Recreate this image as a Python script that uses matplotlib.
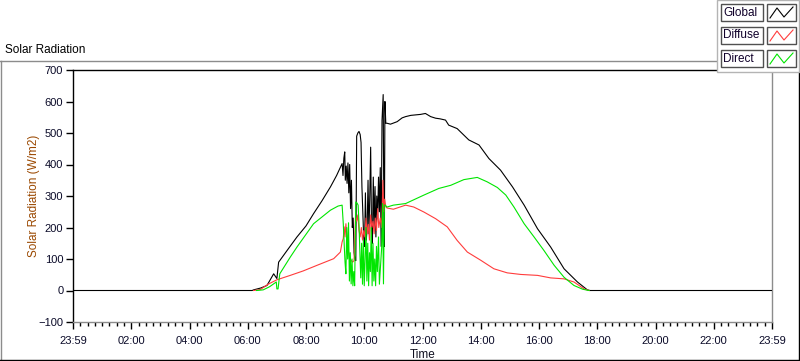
import matplotlib
matplotlib.use("Agg")
import matplotlib.pyplot as plt
from matplotlib.lines import Line2D
from matplotlib.patches import Rectangle
from matplotlib.ticker import MultipleLocator

plt.rcParams['font.family'] = ['Liberation Sans', 'DejaVu Sans']

# hours after midnight -> W/m2
global_h = [0, 6.15, 6.2, 6.45, 6.66, 6.89, 7.0, 7.06, 7.1, 7.35, 7.69, 8.0, 8.26, 8.55, 8.84, 9.05,
            9.24, 9.27, 9.30, 9.33, 9.35, 9.38, 9.41, 9.44, 9.47, 9.50, 9.53, 9.56, 9.59, 9.62, 9.65,
            9.68, 9.71, 9.74, 9.78, 9.82, 9.86, 9.89, 9.92, 9.95, 9.98, 10.01, 10.04, 10.07, 10.10,
            10.13, 10.16, 10.19, 10.22, 10.25, 10.28, 10.31, 10.34, 10.37, 10.40, 10.43, 10.46, 10.49,
            10.52, 10.55, 10.58, 10.61, 10.65, 10.67, 10.69, 10.71, 10.74, 10.78,
            10.9, 11.13, 11.3, 11.42, 11.6, 11.93, 12.1, 12.28, 12.45, 12.6, 12.79, 12.9, 13.19,
            13.59, 13.94, 14.28, 14.68, 15.09, 15.49, 15.95, 16.4, 16.86, 17.32, 17.66, 17.75, 24]
global_v = [0, 0, 2, 8, 16, 53, 38, 90, 95, 127, 170, 205, 244, 285, 329, 365,
            403, 365, 420, 440, 350, 395, 340, 405, 310, 400, 260, 350, 200, 230, 120,
            100, 95, 490, 500, 505, 495, 470, 330, 250, 170, 140, 310, 160, 200,
            350, 180, 300, 455, 190, 150, 360, 200, 330, 170, 300, 230, 360,
            250, 390, 140, 540, 622, 300, 140, 600, 531, 531,
            528, 536, 548, 552, 556, 559, 562, 552, 547, 545, 541, 525, 514,
            478, 462, 419, 382, 329, 271, 196, 138, 69, 27, 2, 0, 0]

diffuse_h = [6.2, 6.43, 6.7, 7.0, 7.46, 7.9, 8.38, 8.95, 9.18,
             9.24, 9.28, 9.31, 9.34, 9.37, 9.41, 9.45, 9.50, 9.55, 9.60, 9.65, 9.70, 9.74, 9.78,
             9.82, 9.86, 9.90, 9.94, 9.98, 10.02, 10.06, 10.10, 10.14, 10.18, 10.22, 10.26, 10.30,
             10.34, 10.38, 10.42, 10.46, 10.50, 10.55, 10.60, 10.64, 10.67, 10.70, 10.74, 10.78,
             11.0, 11.42, 11.7, 12.05, 12.45, 12.85, 13.19, 13.54, 14.0, 14.45, 14.91, 15.37, 15.95,
             16.4, 16.86, 17.2, 17.55, 17.72]
diffuse_v = [0, 3, 20, 34, 48, 62, 80, 101, 122,
             154, 165, 202, 170, 212, 160, 130, 100, 96, 90, 95, 234, 220, 240,
             190, 170, 200, 160, 190, 170, 230, 180, 210, 160, 240, 200, 220,
             180, 230, 190, 260, 200, 230, 200, 350, 250, 290, 266, 262,
             258, 271, 265, 249, 228, 202, 159, 122, 96, 69, 56, 51, 48,
             40, 37, 27, 5, 0]

direct_h = [6.3, 6.53, 6.75, 6.98, 7.0, 7.04, 7.1, 7.46, 7.69, 8.26, 8.84, 9.1,
            9.24, 9.28, 9.31, 9.34, 9.37, 9.40, 9.43, 9.46, 9.49, 9.52, 9.55, 9.58, 9.61, 9.64,
            9.67, 9.71, 9.75, 9.79, 9.82, 9.85, 9.88, 9.91, 9.94, 9.97, 10.00, 10.03, 10.06, 10.09,
            10.12, 10.15, 10.18, 10.21, 10.24, 10.27, 10.30, 10.33, 10.36, 10.39, 10.42, 10.45, 10.49,
            10.52, 10.56, 10.60, 10.63, 10.66, 10.69, 10.72, 10.78,
            11.0, 11.42, 12.05, 12.56, 12.97, 13.42, 13.88, 14.22, 14.57, 14.86, 15.14, 15.49, 15.83,
            16.17, 16.52, 16.86, 17.2, 17.5, 17.72]
direct_v = [0, 2, 12, 27, 5, 5, 53, 106, 138, 212, 255, 268,
            271, 212, 150, 90, 53, 200, 100, 215, 30, 120, 21, 100, 15, 60,
            15, 281, 278, 271, 213, 120, 40, 150, 20, 160, 15, 100, 200, 30,
            150, 15, 120, 60, 200, 15, 150, 30, 100, 15, 140, 60, 170,
            20, 80, 140, 276, 21, 271, 271, 265,
            271, 276, 303, 324, 334, 352, 359, 345, 327, 303, 265, 212, 170,
            127, 80, 42, 16, 4, 0]

hour_ticks = list(range(0, 25, 2))
hour_labels = ["23:59"] + ["%02d:00" % h for h in range(2, 24, 2)] + ["23:59"]

W, H = 800, 361
fig = plt.figure(figsize=(W / 100, H / 100), dpi=100)
fig.patch.set_facecolor('white')

def fx(px):
    return px / W

def fy(py):
    return 1 - py / H

ax = fig.add_axes([fx(73), fy(322), fx(772) - fx(73), fy(70) - fy(322)])
ax.plot(global_h, global_v, color='black', lw=0.8, zorder=3)
ax.plot(diffuse_h, diffuse_v, color='#ff3c3c', lw=0.8, zorder=4)
ax.plot(direct_h, direct_v, color='#00e600', lw=0.8, zorder=5)

ax.set_xlim(0, 24)
ax.set_ylim(-100, 700)
ax.set_xticks(hour_ticks)
ax.set_xticklabels(hour_labels)
ax.xaxis.set_minor_locator(MultipleLocator(0.25))
ax.set_yticks(range(-100, 701, 100))

tick_col = '#0a0a28'
ax.tick_params(axis='both', which='major', length=5, width=1, color='black',
               labelsize=8, labelcolor=tick_col, pad=2)
ax.tick_params(axis='x', which='minor', length=3, width=1, color='black')
ax.tick_params(axis='x', which='major', pad=5)

ax.spines['left'].set_color('black')
ax.spines['top'].set_color('black')
ax.spines['bottom'].set_color('#8c8c8c')
ax.spines['right'].set_color('#8c8c8c')
for s in ax.spines.values():
    s.set_linewidth(1)

ax.set_xlabel("Time", fontsize=8.5, color='#101020', labelpad=2)
ax.set_ylabel("Solar Radiation (W/m2)", fontsize=8.5, color='#9a4800', labelpad=-1)

# outer panel frame
fig.add_artist(Line2D([fx(0), fx(717)], [fy(61), fy(61)], color='#8c8c8c', lw=1))
fig.add_artist(Line2D([fx(0.5), fx(0.5)], [fy(61), fy(360)], color='#8c8c8c', lw=1))
fig.add_artist(Line2D([fx(0), fx(799)], [fy(360), fy(360)], color='black', lw=1))
fig.add_artist(Line2D([fx(798.5), fx(798.5)], [fy(72), fy(360)], color='black', lw=1))
fig.text(fx(5), fy(50), "Solar Radiation", fontsize=8.5, color='black', va='center', ha='left')

# legend panel
fig.add_artist(Rectangle((fx(717), fy(72)), fx(799) - fx(717), fy(0) - fy(72),
                         facecolor='white', edgecolor='#b4b4b4', lw=1, zorder=10))
names = ["Global", "Diffuse", "Direct"]
cols = ['black', '#ff3c3c', '#00e600']
tops = [4, 27, 50]
for name, c, t in zip(names, cols, tops):
    fig.add_artist(Rectangle((fx(721), fy(t + 17)), fx(763) - fx(721), fy(t) - fy(t + 17),
                             facecolor='white', edgecolor='#505050', lw=1, zorder=11))
    fig.text(fx(723), fy(t + 8.5), name, fontsize=8.5, color='#10002a',
             va='center', ha='left', zorder=12)
    fig.add_artist(Rectangle((fx(767), fy(t + 17)), fx(796) - fx(767), fy(t) - fy(t + 17),
                             facecolor='white', edgecolor='#505050', lw=1, zorder=11))
    fig.add_artist(Line2D([fx(770), fx(777), fx(784), fx(793)],
                          [fy(t + 14), fy(t + 4), fy(t + 13), fy(t + 3)],
                          color=c, lw=0.8, zorder=12))

fig.savefig("out.png", dpi=100)
